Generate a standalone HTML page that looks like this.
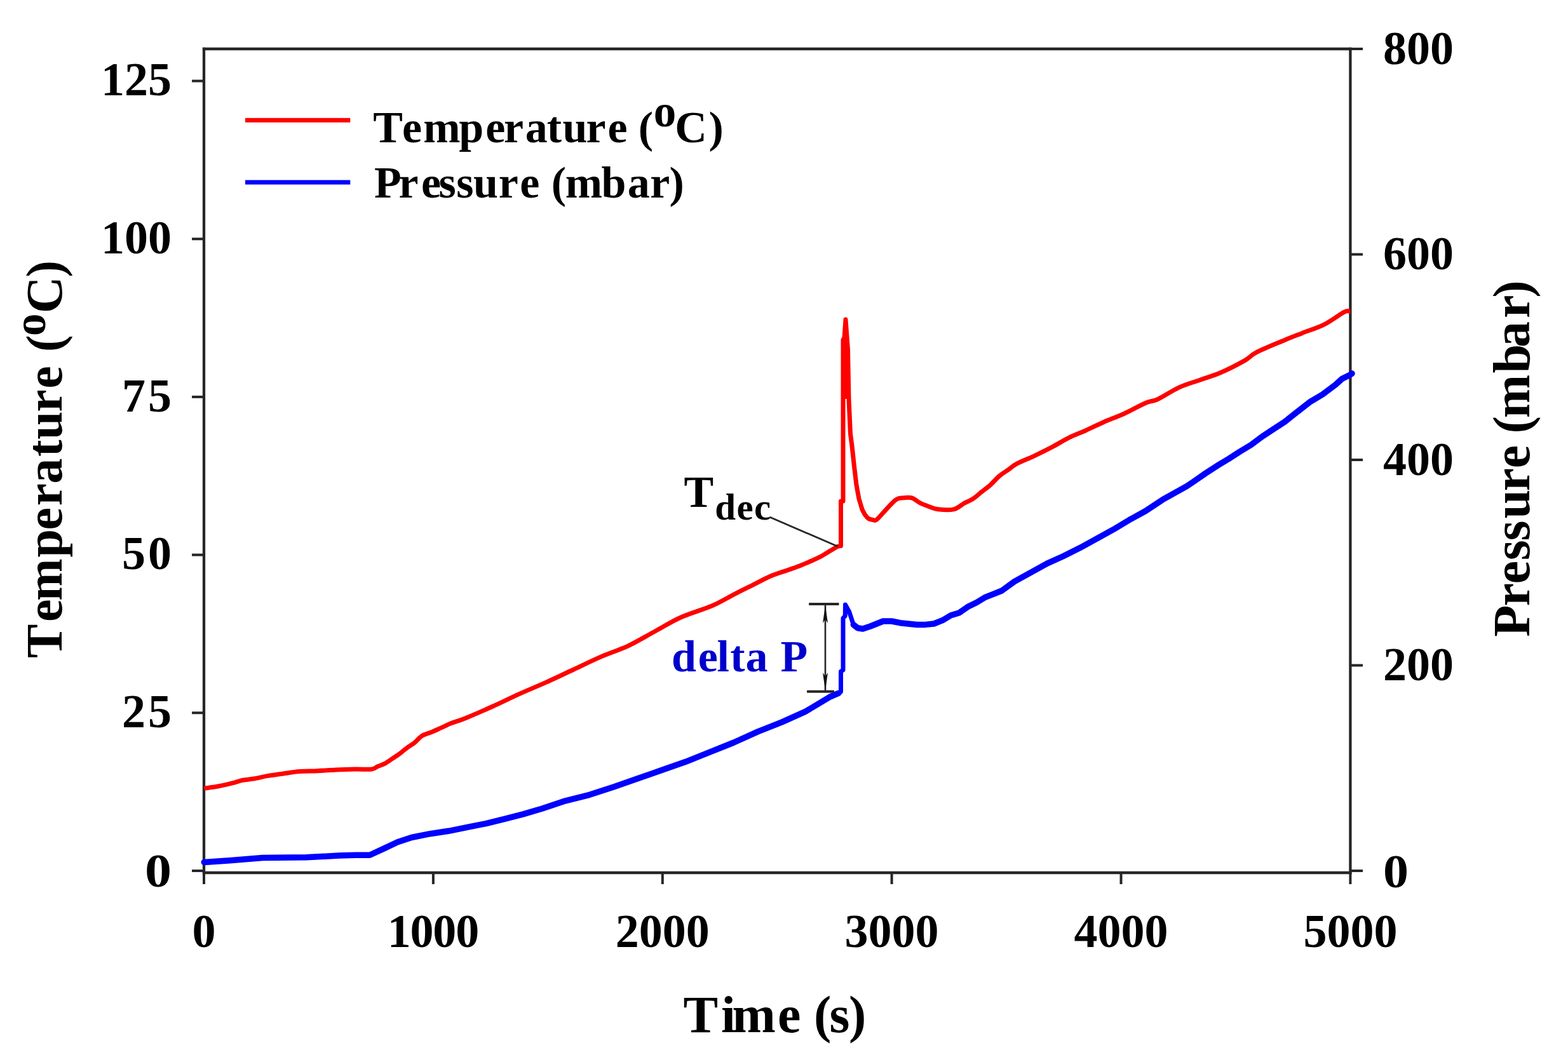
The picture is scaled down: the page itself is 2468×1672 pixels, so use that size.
<!DOCTYPE html>
<html><head><meta charset="utf-8"><title>Temperature and Pressure vs Time</title>
<style>html,body{margin:0;padding:0;background:#fff;}svg{display:block;}text{font-family:'Liberation Serif', 'Times New Roman', serif;font-weight:bold;}</style></head><body>
<svg width="2468" height="1672" viewBox="0 0 2468 1672">
<rect width="2468" height="1672" fill="#fff"/>
<g stroke="#262626" stroke-width="4.3" fill="none" stroke-linecap="square">
<line x1="321" y1="77" x2="2125.4" y2="77"/>
<line x1="321" y1="77" x2="321" y2="1374"/>
<line x1="2125.4" y1="77" x2="2125.4" y2="1374"/>
<line x1="321" y1="1374" x2="2125.4" y2="1374"/>
</g>
<g stroke="#262626" stroke-width="4" fill="none">
<line x1="302" y1="1371" x2="321" y2="1371"/>
<line x1="302" y1="1122.3" x2="321" y2="1122.3"/>
<line x1="302" y1="873.6" x2="321" y2="873.6"/>
<line x1="302" y1="624.9" x2="321" y2="624.9"/>
<line x1="302" y1="376.2" x2="321" y2="376.2"/>
<line x1="302" y1="127.5" x2="321" y2="127.5"/>
<line x1="2125.4" y1="1371" x2="2145" y2="1371"/>
<line x1="2125.4" y1="1047.5" x2="2145" y2="1047.5"/>
<line x1="2125.4" y1="724" x2="2145" y2="724"/>
<line x1="2125.4" y1="400.5" x2="2145" y2="400.5"/>
<line x1="2125.4" y1="77" x2="2145" y2="77"/>
<line x1="321" y1="1374" x2="321" y2="1392"/>
<line x1="681.9" y1="1374" x2="681.9" y2="1392"/>
<line x1="1042.8" y1="1374" x2="1042.8" y2="1392"/>
<line x1="1403.6" y1="1374" x2="1403.6" y2="1392"/>
<line x1="1764.5" y1="1374" x2="1764.5" y2="1392"/>
<line x1="2125.4" y1="1374" x2="2125.4" y2="1392"/>
</g>
<g font-size="74" fill="#000">
<text x="270" y="1396" text-anchor="end" textLength="42" lengthAdjust="spacingAndGlyphs">0</text>
<text x="270" y="1145.1" text-anchor="end" textLength="78" lengthAdjust="spacing">25</text>
<text x="270" y="896.4" text-anchor="end" textLength="78" lengthAdjust="spacing">50</text>
<text x="270" y="647.7" text-anchor="end" textLength="78" lengthAdjust="spacing">75</text>
<text x="270" y="399" text-anchor="end">100</text>
<text x="270" y="150.3" text-anchor="end">125</text>
<text x="2177" y="1396.5" textLength="40" lengthAdjust="spacingAndGlyphs">0</text>
<text x="2177" y="1071">200</text>
<text x="2177" y="747.5">400</text>
<text x="2177" y="424">600</text>
<text x="2177" y="100.5">800</text>
<text x="321" y="1490.5" text-anchor="middle">0</text>
<text x="681.9" y="1490.5" text-anchor="middle" textLength="144.5" lengthAdjust="spacing">1000</text>
<text x="1042.8" y="1490.5" text-anchor="middle">2000</text>
<text x="1403.6" y="1490.5" text-anchor="middle">3000</text>
<text x="1764.5" y="1490.5" text-anchor="middle">4000</text>
<text x="2125.4" y="1490.5" text-anchor="middle">5000</text>
</g>
<text x="1075.4 1135.1 1152.5 1223.9 1260.3 1281 1305.6 1336.1" y="1625" font-size="82">Time (s)</text>
<text transform="translate(97.3,0) rotate(-90)" font-size="80"><tspan x="-1036 -978.9 -946 -877.5 -834.4 -796.6 -761.6 -719 -692.1 -648.7 -611.7 -576.2 -554.1">Temperature (</tspan><tspan font-size="71" x="-529.1" y="-26.6">o</tspan><tspan x="-493.3 -436.5" y="0">C)</tspan></text>
<text transform="translate(2406.7,0) rotate(-90)" font-size="82" x="-1002.7 -954.5 -919.3 -882.2 -851.5 -816.6 -773.6 -737.3 -700.9 -682.6 -658.2 -587.6 -546.9 -501 -468.8">Pressure (mbar)</text>
<line x1="386" y1="189.3" x2="551.3" y2="189.3" stroke="#ff0000" stroke-width="7"/>
<line x1="386" y1="287" x2="551.3" y2="287" stroke="#0000ff" stroke-width="7"/>
<text y="223.5" font-size="70"><tspan x="587.2 632.9 666.2 722.3 764.3 792.9 826.7 860.7 885.4 922.4 956.6 987.7 1004.7">Temperature (</tspan><tspan font-size="71" x="1028.8" y="199">o</tspan><tspan x="1062.3 1115.4" y="223.5">C)</tspan></text>
<text x="589 627.5 662.9 690.4 718.3 745 784.7 818.3 849.3 867.8 889.8 946.4 987.7 1023.2 1053.6" y="310.5" font-size="70">Pressure (mbar)</text>
<rect x="1326" y="536" width="10" height="92" fill="#ff0000"/>
<path d="M321.2,1241.2 C325.1,1240.6 336.8,1239.2 344.4,1237.8 C352,1236.4 360.5,1234.2 366.8,1232.6 C373.1,1231 376.6,1229.4 382.3,1228.3 C388,1227.2 394.6,1226.8 401.2,1225.7 C407.8,1224.6 414.4,1222.7 421.9,1221.4 C429.4,1220.1 437.7,1219.2 446,1218 C454.3,1216.8 462.9,1215.2 471.8,1214.5 C480.7,1213.8 489.8,1214.1 499.3,1213.7 C508.8,1213.3 518.6,1212.5 528.6,1212 C538.6,1211.5 550.2,1211.2 559.6,1211 C569,1210.8 579.2,1211.7 585,1211 C590.8,1210.3 590.7,1208.3 594.2,1206.8 C597.7,1205.3 601.9,1204.2 605.8,1202.1 C609.7,1200 613.6,1197 617.5,1194.4 C621.4,1191.8 625.2,1189.4 629.1,1186.6 C633,1183.8 636.8,1180.1 640.7,1177.3 C644.6,1174.5 648.4,1172.7 652.3,1169.6 C656.2,1166.5 659.4,1161.5 663.9,1158.7 C668.4,1155.9 674.2,1154.7 679.4,1152.5 C684.6,1150.3 689.7,1147.9 694.9,1145.6 C700.1,1143.3 704.1,1141.1 710.4,1138.6 C716.7,1136.1 721.8,1135.1 732.6,1130.7 C743.4,1126.3 761,1118.6 775.2,1112.2 C789.4,1105.8 803.6,1098.8 817.8,1092.4 C832,1086 846.2,1080.3 860.4,1073.9 C874.6,1067.5 888.8,1060.6 903,1054 C917.2,1047.4 931.4,1040.2 945.6,1034.1 C959.8,1027.9 974.1,1023.7 988.2,1017.1 C1002.3,1010.5 1016.2,1002 1030,994.5 C1043.8,987 1055.9,979.1 1071,972.3 C1086.1,965.5 1106.5,959.9 1120.7,953.8 C1134.9,947.6 1146,940.6 1156.2,935.4 C1166.4,930.2 1172.3,927.3 1181.8,922.6 C1191.3,917.9 1203.4,911.1 1213,907 C1222.6,902.9 1231.9,900.4 1239.5,897.7 C1247.1,895 1252.1,893.5 1258.4,891 C1264.7,888.5 1271.8,885.4 1277.3,883 C1282.8,880.6 1287.5,878.4 1291.5,876.4 C1295.5,874.4 1297.8,872.6 1301,870.7 C1304.2,868.8 1307.7,866.6 1310.5,865 C1313.3,863.4 1315.4,861.7 1317.6,860.8 C1319.8,859.9 1322.5,859.7 1323.5,859.5 L1323.5,789 L1327,789 L1327,535 L1329,532 L1331,503 L1334.5,550 L1336,628 L1338.5,683 L1341,702 L1344.7,736 L1347.9,763 L1351.9,785 L1357,802 C1357.8,803.5 1360.3,808.6 1362,811 C1363.7,813.4 1365,815.2 1367,816.5 C1369,817.8 1371.8,818.2 1374,818.5 C1376.2,818.8 1376.7,820.5 1380,818 C1383.3,815.5 1388.8,808.4 1393.8,803.2 C1398.8,798 1405.7,789.9 1410.3,786.7 C1414.9,783.5 1417.2,784.4 1421.3,783.9 C1425.4,783.4 1430.5,782.5 1435.1,783.9 C1439.7,785.3 1444.2,789.9 1448.8,792.2 C1453.4,794.5 1458,796.1 1462.6,797.7 C1467.2,799.3 1470,801.1 1476.4,801.8 C1482.8,802.5 1494.3,803.4 1501.2,801.8 C1508.1,800.2 1512.7,795 1517.7,792.2 C1522.8,789.5 1526.9,788.3 1531.5,785.3 C1536.1,782.3 1540.6,778 1545.2,774.3 C1549.8,770.6 1554.4,767.4 1559,763.3 C1563.6,759.2 1568.2,753.4 1572.8,749.5 C1577.4,745.6 1581.9,743.1 1586.5,739.9 C1591.1,736.7 1593.4,733.9 1600.3,730.2 C1607.2,726.5 1618.6,722.1 1627.8,717.8 C1637,713.4 1646.2,708.9 1655.4,704.1 C1664.6,699.3 1674,693.3 1682.9,688.9 C1691.8,684.5 1699.8,681.8 1708.9,677.7 C1718,673.6 1727.2,668.9 1737.3,664.5 C1747.4,660.1 1758.5,656.2 1769.5,651.2 C1780.5,646.2 1794.8,638 1803.6,634.2 C1812.4,630.4 1813.7,632.6 1822.5,628.5 C1831.3,624.4 1845.5,614.6 1856.6,609.6 C1867.6,604.6 1878.1,602 1888.8,598.2 C1899.5,594.4 1909.3,591.8 1921,586.8 C1932.7,581.8 1949.3,573.2 1958.8,567.9 C1968.3,562.5 1967.4,560.1 1977.8,554.7 C1988.2,549.3 2009.3,540.8 2021.3,535.7 C2033.3,530.7 2039.3,528.5 2049.7,524.4 C2060.1,520.3 2072.8,516.6 2083.8,511.1 C2094.9,505.6 2109.1,494.7 2116,491.2 C2122.9,487.7 2123.8,490.4 2125.4,490.3" fill="none" stroke="#ff0000" stroke-width="7" stroke-linejoin="round"/>
<polyline points="321.2,1357.4 361.6,1354.8 413.3,1350.5 482.1,1349.7 533.8,1347.1 560,1346.3 582,1346.3 603.9,1336.1 625.8,1325.8 647.8,1318.5 677,1312.7 706.3,1308.3 735.6,1302.4 764.8,1296.6 794.1,1289.3 823.3,1281.9 852.6,1273.2 890,1260.8 927.9,1251.3 965.7,1239 1003.6,1225.8 1041.5,1212.5 1079.3,1199.3 1117.2,1184.1 1155,1169 1192.9,1151.9 1230.8,1136.8 1268.6,1119.8 1297,1102.7 1306.5,1097 1319.8,1091.4" fill="none" stroke="#0000ff" stroke-width="9.5" stroke-linejoin="round" stroke-linecap="round"/>
<polyline points="1319.8,1091.4 1323.5,1089 1323.5,1057 1327,1055 1327,973 1330.2,970 1330.5,952 1336.7,963.3 1343.3,983.4" fill="none" stroke="#0000ff" stroke-width="7" stroke-linejoin="round"/>
<polyline points="1343.3,983.4 1350,988.7 1358,990 1370,986 1390,978 1403.4,978 1416.7,980.7 1443.4,983.4 1456.7,983.4 1470,982 1483.4,976.7 1496.7,968.7 1510,964.7 1523.4,955.3 1536.8,948.7 1550,940.7 1563.4,935.3 1576.8,930 1596.6,915.6 1622.4,901.4 1648.2,887.2 1674,875.5 1699.8,862.6 1725.7,848.4 1751.5,834.2 1777.3,818.7 1803.1,804.5 1830,786.7 1868.1,765.4 1880,757.4 1897.8,745 1915.6,733.4 1933.4,722.7 1951.2,711.2 1969,700.5 1986.8,687.2 2004.6,675.6 2022.3,664 2035.7,653.3 2061.3,633.2 2081.7,621 2102,605.7 2112.1,596.6 2124.3,590.5 2128,588" fill="none" stroke="#0000ff" stroke-width="9.5" stroke-linejoin="round" stroke-linecap="round"/>
<text x="1076.6" y="797.5" font-size="70">T</text>
<text x="1125.3 1159.6 1187" y="817.8" font-size="59">dec</text>
<line x1="1211.3" y1="813.9" x2="1318.5" y2="860.3" stroke="#262626" stroke-width="2.7"/>
<text x="1057 1098.7 1128.6 1149.3 1173.6 1208.6 1228.5" y="1056.5" font-size="70" fill="#0000cc">delta P</text>
<g stroke="#262626" fill="none">
<line x1="1273.2" y1="951" x2="1320.5" y2="951" stroke-width="4"/>
<line x1="1270.1" y1="1088.7" x2="1313" y2="1088.7" stroke-width="4"/>
<line x1="1299" y1="952" x2="1299" y2="1087" stroke-width="2.6"/>
</g>
<path d="M1299,953 L1303,981 L1299,975 L1295,981 Z" fill="#111"/>
<path d="M1299,1087 L1303,1059 L1299,1065 L1295,1059 Z" fill="#111"/>
</svg></body></html>
